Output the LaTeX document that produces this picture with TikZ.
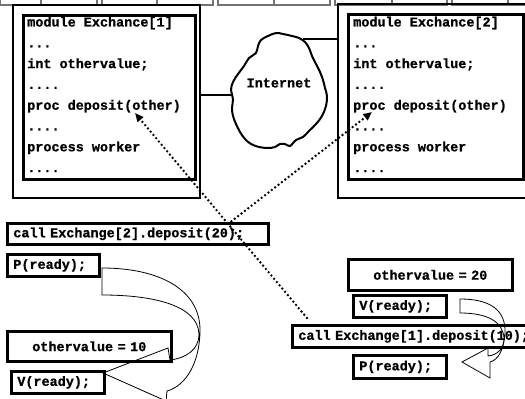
\documentclass[tikz,border=0pt]{standalone}
\usepackage{fontspec}
\setmonofont[BoldFeatures={FakeBold=0.8}]{Liberation Mono}
\usetikzlibrary{arrows.meta}
\newcommand{\codefont}{\ttfamily\bfseries\fontsize{10.1pt}{12pt}\selectfont}
\newcommand{\dthree}{...}
\newcommand{\dfour}{....}
\tikzset{
  base/.style={font=\codefont, inner sep=0pt, text=black},
  codeline/.style={base, anchor=base west},
  modbox/.style={rectangle, draw, line width=1.3pt, anchor=north west, inner sep=0pt},
  inbox/.style={modbox, line width=2pt},
  codebox/.style={base, rectangle, draw, line width=2pt, anchor=north west, inner xsep=4.5pt, align=left},
  valbox/.style={codebox, align=center},
  tabline/.style={draw=black!55, line width=1.1pt},
  link/.style={line width=0.8pt},
  msg/.style={-{Triangle[length=6.5pt,width=5.5pt]}, line width=2pt, dash pattern=on 0pt off 3.2pt, line cap=round},
  bendarrow/.style={line width=0.6pt},
}
\begin{document}
\begin{tikzpicture}[x=0.75pt,y=-0.75pt]
  \clip (0,0) rectangle (525,399);
  % tabs along the top edge
  \foreach \l/\m/\r in {0/41/97,102/157/213,218/274/330,335/392/447,452/508/560}{
    \draw[tabline] (\l,-8) rectangle (\r,5);
    \draw[tabline] (\m,-8) -- (\m,5);
  }
  % the two modules
  \node[modbox, minimum width=140.25pt, minimum height=144.75pt] (mod1) at (12,4) {};
  \node[inbox, minimum width=129pt, minimum height=123pt] (in1) at (22,14) {};
  \node[modbox, minimum width=165pt, minimum height=145.5pt] (mod2) at (337,3) {};
  \node[inbox, minimum width=131.25pt, minimum height=123.75pt] (in2) at (347,13) {};
  \foreach \m/\x in {1/27,2/353}
    \foreach \i/\t in {1/module Exchance[\m],2/\dthree,3/int othervalue;,4/\dfour,5/proc deposit(other),6/\dfour,7/process worker,8/\dfour}
      \node[codeline] (ln\m-\i) at (\x,{26.5+20.8*(\i-1)}) {\t};
  % network
  \draw[line width=1.5pt] plot[smooth cycle, tension=0.6] coordinates {
    (268,36) (276,33) (283,34) (292,36) (299,38) (305,42) (309,48) (312,56)
    (316,64) (320,72) (323,80) (325,88) (327,96) (326,106) (322,116) (316,124)
    (309,131) (303,137) (296,140) (290,146) (285,144) (280,144) (275,147) (268,148)
    (259,147) (251,144) (245,139) (240,132) (236,124) (233,116) (232,108) (233,99)
    (231,90) (233,82) (238,74) (244,66) (249,58) (256,53) (258,46) (261,40)};
  \node[base] (net) at (279,83) {Internet};
  \coordinate (netW) at (232,95);
  \coordinate (netNE) at (303,39);
  \draw[link] (netW -| mod1.east) -- (netW);
  \draw[link] (netNE -| mod2.west) -- (netNE);
  % caller side of Exchange[1]
  \node[codebox, text width=186.75pt, minimum height=15.75pt] (callB) at (6,222) {call Exchange[2].deposit(20);};
  \node[codebox, text width=60pt, minimum height=16.5pt] (waitB) at (6,253) {P(ready);};
  \node[valbox, text width=114pt, minimum height=22.5pt] (valB) at (6,330) {othervalue = 10};
  \node[codebox, text width=60.75pt, minimum height=16.5pt] (sigB) at (10,370) {V(ready);};
  % caller side of Exchange[2]
  \node[valbox, text width=114pt, minimum height=23.25pt] (valA) at (347,258) {othervalue = 20};
  \node[codebox, text width=60.75pt, minimum height=16.5pt] (sigA) at (352,294) {V(ready);};
  \node[codebox, text width=186.75pt, minimum height=16.5pt] (callA) at (291,324) {call Exchange[1].deposit(10);};
  \node[codebox, text width=60.75pt, minimum height=17.25pt] (waitA) at (352,354) {P(ready);};
  % remote calls
  \coordinate (dep1) at (135,113);
  \coordinate (dep2) at (372,112);
  \coordinate (fromA) at ([xshift=12pt,yshift=4.5pt]callA.north west);
  \coordinate (fromB) at ([xshift=166.5pt,yshift=-1.5pt]callB.north west);
  \draw[msg] (fromA) -- (dep1);
  \draw[msg] (fromB) -- (dep2);
  % wait / signal arrows
  \draw[bendarrow] (102,268) .. controls (160,268) and (200,290) .. (200,330)
    .. controls (200,362) and (186,386) .. (167,391) -- (166,401) -- (103,373)
    -- (168,348) -- (170,360) .. controls (186,358) and (199,350) .. (199,334)
    .. controls (198,306) and (155,295) .. (102,295) -- cycle;
  \draw[bendarrow] (460,299) .. controls (490,299) and (506,310) .. (505,333)
    .. controls (504,350) and (498,360) .. (490,362) -- (490,378) -- (462,362)
    -- (488,348) -- (488,356) .. controls (498,355) and (504,348) .. (504,338)
    .. controls (503,322) and (488,313) .. (460,313) -- cycle;
\end{tikzpicture}
\end{document}
